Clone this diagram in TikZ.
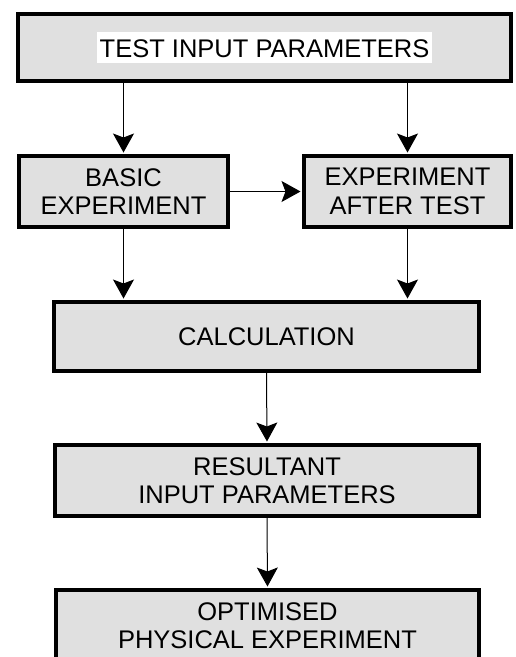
\documentclass[tikz,border=0pt]{standalone}
\usepackage{fontspec}
\setmainfont{Liberation Sans}
\usetikzlibrary{arrows.meta}
\definecolor{boxgray}{HTML}{E0E0E0}
\begin{document}
\begin{tikzpicture}[x=1pt,y=-1pt,
  box/.style={draw=black, line width=4pt, fill=boxgray, rectangle, inner sep=0pt,
    align=center, font=\fontsize{25.5}{28.5}\selectfont},
  arr/.style={line width=1pt, -{Stealth[length=19pt,width=21pt,inset=4pt]}, shorten >=1.5pt}]
  \useasboundingbox (0,0) rectangle (515,657);
  \clip (0,0) rectangle (515,657);
  \fill[white] (0,0) rectangle (515,657);
  \setlength\fboxsep{3pt}
  \node[box, minimum width=493pt, minimum height=67pt] (top) at (264.5,47.5)
    {\colorbox{white}{\rule[-3pt]{0pt}{25pt}TEST INPUT PARAMETERS}};
  \node[box, minimum width=209pt, minimum height=71pt] (basic) at (123.5,191.5)
    {BASIC\\EXPERIMENT};
  \node[box, minimum width=207pt, minimum height=71pt] (after) at (407.5,191.5)
    {EXPERIMENT\\AFTER TEST};
  \node[box, minimum width=425pt, minimum height=69pt] (calc) at (266.5,336.5)
    {CALCULATION};
  \node[box, minimum width=424pt, minimum height=71pt] (result) at (267,480.5)
    {RESULTANT\\INPUT PARAMETERS};
  \node[box, minimum width=423pt, minimum height=71pt] (optim) at (267.5,625.5)
    {OPTIMISED\\PHYSICAL EXPERIMENT};
  \draw[arr] (top.south -| basic.north) -- (basic.north);
  \draw[arr] (top.south -| after.north) -- (after.north);
  \draw[arr] (basic.east) -- (after.west);
  \draw[arr] (basic.south) -- (calc.north -| basic.south);
  \draw[arr] (after.south) -- (calc.north -| after.south);
  \draw[arr] (calc.south) -- (result.north);
  \draw[arr] (result.south) -- (optim.north);
\end{tikzpicture}
\end{document}
